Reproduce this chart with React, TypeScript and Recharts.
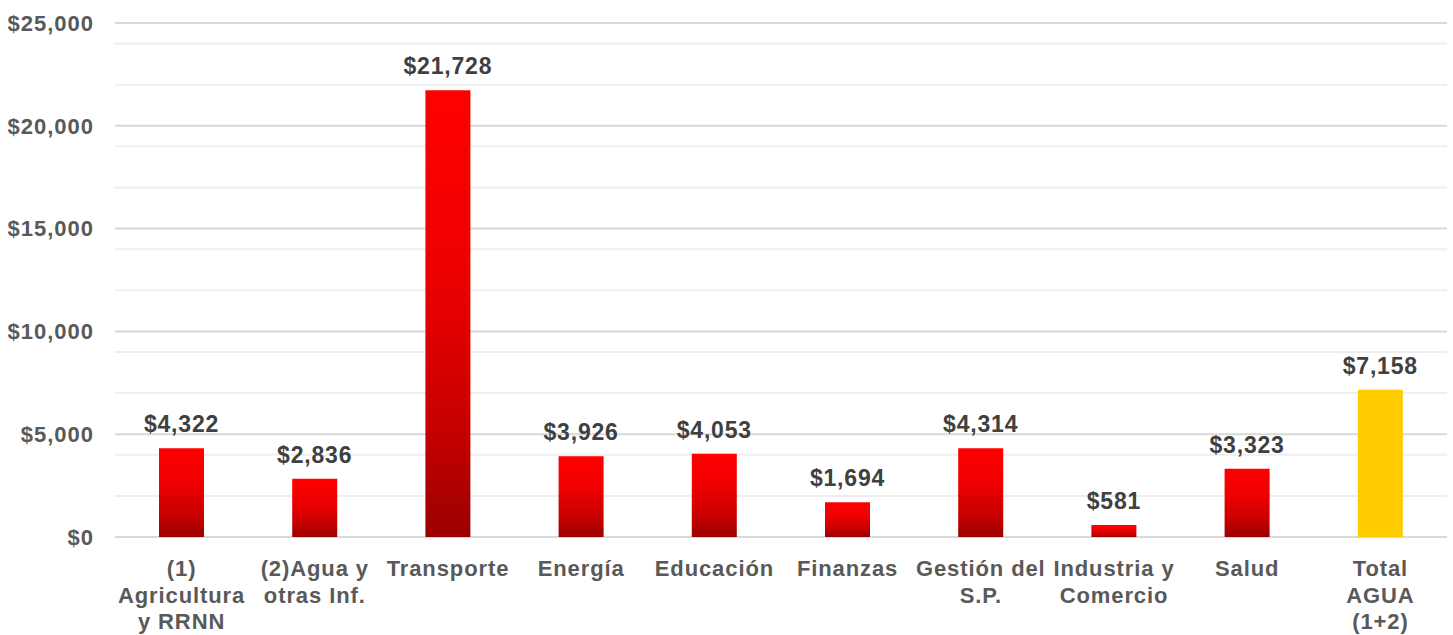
import React from 'react'
import { BarChart, Bar, XAxis, YAxis, CartesianGrid, LabelList, Cell } from 'recharts'

const categories = [
  '(1)\nAgricultura\ny RRNN', '(2)Agua y\notras Inf.', 'Transporte', 'Energía', 'Educación',
  'Finanzas', 'Gestión del\nS.P.', 'Industria y\nComercio', 'Salud', 'Total\nAGUA\n(1+2)',
]
const values = [4322, 2836, 21728, 3926, 4053, 1694, 4314, 581, 3323, 7158]
const majorTicks = [0, 5000, 10000, 15000, 20000, 25000]
const minorTicks = [1000, 2000, 3000, 4000, 6000, 7000, 8000, 9000, 11000, 12000, 13000, 14000,
  16000, 17000, 18000, 19000, 21000, 22000, 23000, 24000]

const data = categories.map((name, i) => ({ name, value: values[i] }))
const money = (v: number) => `$${v.toLocaleString('en-US')}`
const font = '"Liberation Sans", Arial, sans-serif'

const XTick = (props: any) => {
  const { x, y, payload } = props
  const lines = String(payload.value).split('\n')
  return (
    <text x={x} y={y} textAnchor="middle" fill="#595959" fontFamily={font} fontWeight="bold" fontSize={22} letterSpacing={0.9}>
      {lines.map((l, i) => <tspan key={i} x={x} y={y + 31 + i * 26.5}>{l}</tspan>)}
    </text>
  )
}

const TopLabel = (props: any) => {
  const { x, y, width, value } = props
  return (
    <text x={x + width / 2} y={y - 16} textAnchor="middle" fill="#404040" fontFamily={font} fontWeight="bold" fontSize={23} letterSpacing={0.8}>
      {money(value)}
    </text>
  )
}

const App: React.FC = () => (
  <div style={{ position: 'absolute', top: 0, left: 0, width: 1453, height: 635, background: '#fff' }}>
    <BarChart width={1453} height={635} data={data} margin={{ top: 23, right: 6, bottom: 0, left: 0 }}>
      <defs>
        <linearGradient id="redGrad" x1="0" y1="0" x2="0" y2="1">
          <stop offset="0" stopColor="#FF0000" />
          <stop offset="0.4" stopColor="#EE0000" />
          <stop offset="0.75" stopColor="#C80000" />
          <stop offset="1" stopColor="#9A0000" />
        </linearGradient>
      </defs>
      <CartesianGrid vertical={false} stroke="#EEEEEE" strokeWidth={2} horizontalValues={minorTicks} />
      <CartesianGrid vertical={false} stroke="#D9D9D9" strokeWidth={2} />
      <XAxis dataKey="name" interval={0} height={98} tickLine={false} axisLine={false} tick={<XTick />} />
      <YAxis domain={[0, 25000]} ticks={majorTicks} width={115} tickLine={false} axisLine={false} tickSize={0} tickMargin={21}
        tickFormatter={money} tick={{ fill: '#595959', fontFamily: font, fontWeight: 'bold', fontSize: 22, letterSpacing: 1 }} />
      <Bar dataKey="value" barSize={45} isAnimationActive={false}>
        {data.map((d, i) => <Cell key={i} fill={i === data.length - 1 ? '#FFCC00' : 'url(#redGrad)'} />)}
        <LabelList dataKey="value" content={<TopLabel />} />
      </Bar>
    </BarChart>
  </div>
)
export default App
